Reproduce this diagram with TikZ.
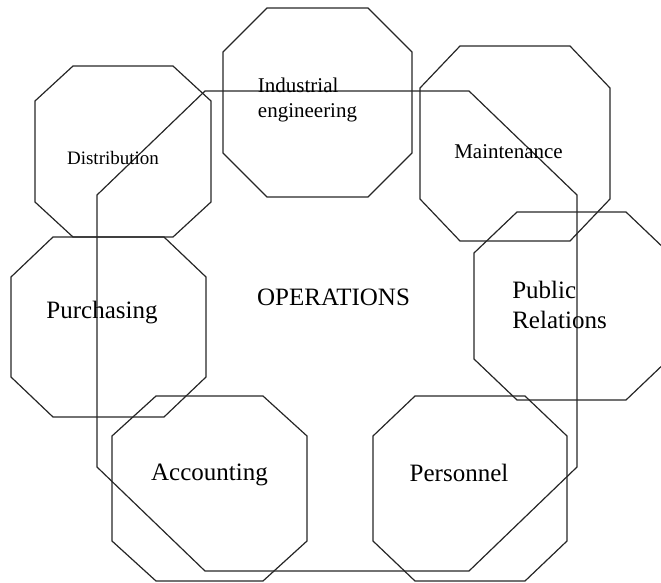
\documentclass[tikz,border=0pt]{standalone}
\usepackage{fontspec}
\setmainfont{Liberation Serif}

% octagon from its box: x1,y1,x2,y2,horizontal cut,vertical cut
\newcommand{\octbox}[6]{%
  \draw[oct] ({#1+#5},#2) -- ({#3-#5},#2) -- (#3,{#2+#6}) -- (#3,{#4-#6})
    -- ({#3-#5},#4) -- ({#1+#5},#4) -- (#1,{#4-#6}) -- (#1,{#2+#6}) -- cycle;}

\begin{document}
\begin{tikzpicture}[
    x=1pt, y=-1pt,
    oct/.style={draw=black!85, line width=1.2pt, line join=miter},
    lbl/.style={inner sep=0pt, align=left, text=black},
    big/.style={lbl, font=\fontsize{25}{30}\selectfont},
    mid/.style={lbl, font=\fontsize{21}{25}\selectfont},
    small/.style={lbl, font=\fontsize{19}{23}\selectfont}
]
\useasboundingbox (0,0) rectangle (661,582);
\clip (0,0) rectangle (661,582);

% the octagons
\octbox{97}{91}{577}{571}{108}{104}
\octbox{35}{66}{211}{237}{38}{35}
\octbox{223}{8}{412}{197}{44}{44}
\octbox{420}{46}{610}{241}{40}{42}
\octbox{474}{212}{669}{400}{43}{41}
\octbox{11}{237}{206}{417}{42}{40}
\octbox{112}{396}{307}{581}{44}{40}
\octbox{373}{396}{567}{581}{42}{40}

% the labels
\node[big] (ops) at (333.5,297) {OPERATIONS};
\node[small] (dist) at (113,158) {Distribution};
\node[mid] (indeng) at (307.5,100) {Industrial\\engineering};
\node[mid] (maint) at (508.5,152) {Maintenance};
\node[big] (pubrel) at (559.5,305) {Public\\Relations};
\node[big] (purch) at (102,313) {Purchasing};
\node[big] (acc) at (209.5,475) {Accounting};
\node[big] (pers) at (459,473) {Personnel};
\end{tikzpicture}
\end{document}
